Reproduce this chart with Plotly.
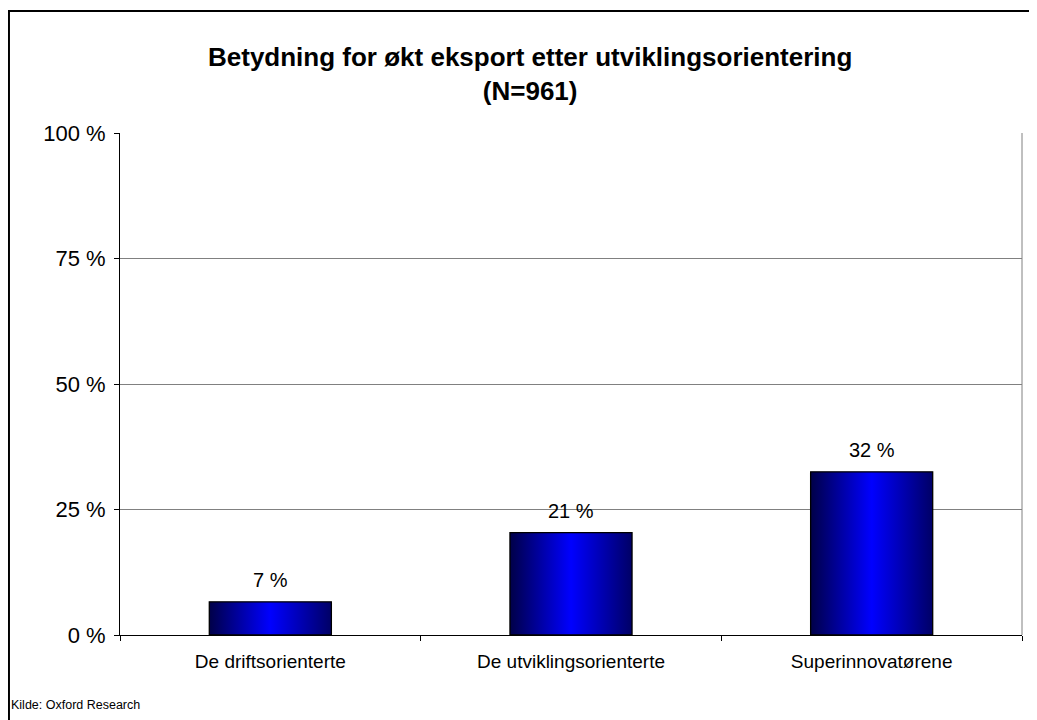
import plotly.graph_objects as go

categories = ["De driftsorienterte", "De utviklingsorienterte", "Superinnovatørene"]
values = [6.6, 20.4, 32.5]
value_labels = ["7 %", "21 %", "32 %"]
y_tick_vals = [0, 25, 50, 75, 100]
y_tick_text = ["0 %", "25 %", "50 %", "75 %", "100 %"]
title_text = "<b>Betydning for økt eksport etter utviklingsorientering<br>(N=961)</b>"
source_text = "Kilde: Oxford Research"

FONT = "Liberation Sans, Arial, sans-serif"
half_w = 0.203
grad = [[0.0, "#000048"], [0.5, "#0000ff"], [1.0, "#000066"]]

fig = go.Figure()
for i, (cat, v) in enumerate(zip(categories, values)):
    xs = [i - half_w, i + half_w, i + half_w, i - half_w, i - half_w]
    ys = [0, 0, v, v, 0]
    fig.add_trace(go.Scatter(
        x=xs, y=ys, mode="lines", fill="toself",
        fillgradient=dict(type="horizontal", colorscale=grad),
        line=dict(color="#000000", width=1.3),
        name=cat, showlegend=False, hoverinfo="skip",
    ))

for i, (v, lab) in enumerate(zip(values, value_labels)):
    fig.add_annotation(x=i, y=v, text=lab, showarrow=False, yanchor="bottom",
                       yshift=9, font=dict(family=FONT, size=20, color="#000000"))

fig.add_annotation(xref="paper", yref="paper", x=0.4545, y=1.118, text=title_text,
                   showarrow=False, xanchor="center", yanchor="middle", align="center",
                   font=dict(family=FONT, size=26, color="#000000"))

fig.add_annotation(xref="paper", yref="paper", x=-0.123, y=-0.14, text=source_text,
                   showarrow=False, xanchor="left", yanchor="middle",
                   font=dict(family=FONT, size=12.5, color="#000000"))

# outer chart border
fig.add_shape(type="rect", xref="paper", yref="paper", x0=-0.1231, x1=1.03, y0=-0.2, y1=1.243,
              line=dict(color="#000000", width=2), fillcolor="rgba(0,0,0,0)", layer="below")
# right plot-area border
fig.add_shape(type="line", xref="paper", yref="paper", x0=1, x1=1, y0=0, y1=1,
              line=dict(color="#808080", width=1))

fig.update_layout(
    width=1029, height=712,
    margin=dict(l=112, r=15, t=125, b=85),
    paper_bgcolor="#ffffff", plot_bgcolor="#ffffff",
    font=dict(family=FONT, color="#000000"),
    showlegend=False,
)
fig.update_xaxes(
    range=[-0.5, 2.5], tickmode="array", tickvals=[0, 1, 2], ticktext=categories,
    ticks="", showgrid=False, zeroline=False,
    showline=True, linecolor="#000000", linewidth=1,
    tickfont=dict(family=FONT, size=19), ticklabelstandoff=9,
    minor=dict(tickmode="array", tickvals=[-0.5, 0.5, 1.5, 2.5], ticks="outside",
               ticklen=5, tickcolor="#000000", showgrid=False),
)
fig.update_yaxes(
    range=[0, 100], tickmode="array", tickvals=y_tick_vals, ticktext=y_tick_text,
    ticks="outside", ticklen=5, tickcolor="#000000",
    showgrid=True, gridcolor="#808080", gridwidth=1, zeroline=False,
    showline=True, linecolor="#000000", linewidth=1,
    tickfont=dict(family=FONT, size=22), ticklabelstandoff=4,
)

fig.write_html("out.html")
